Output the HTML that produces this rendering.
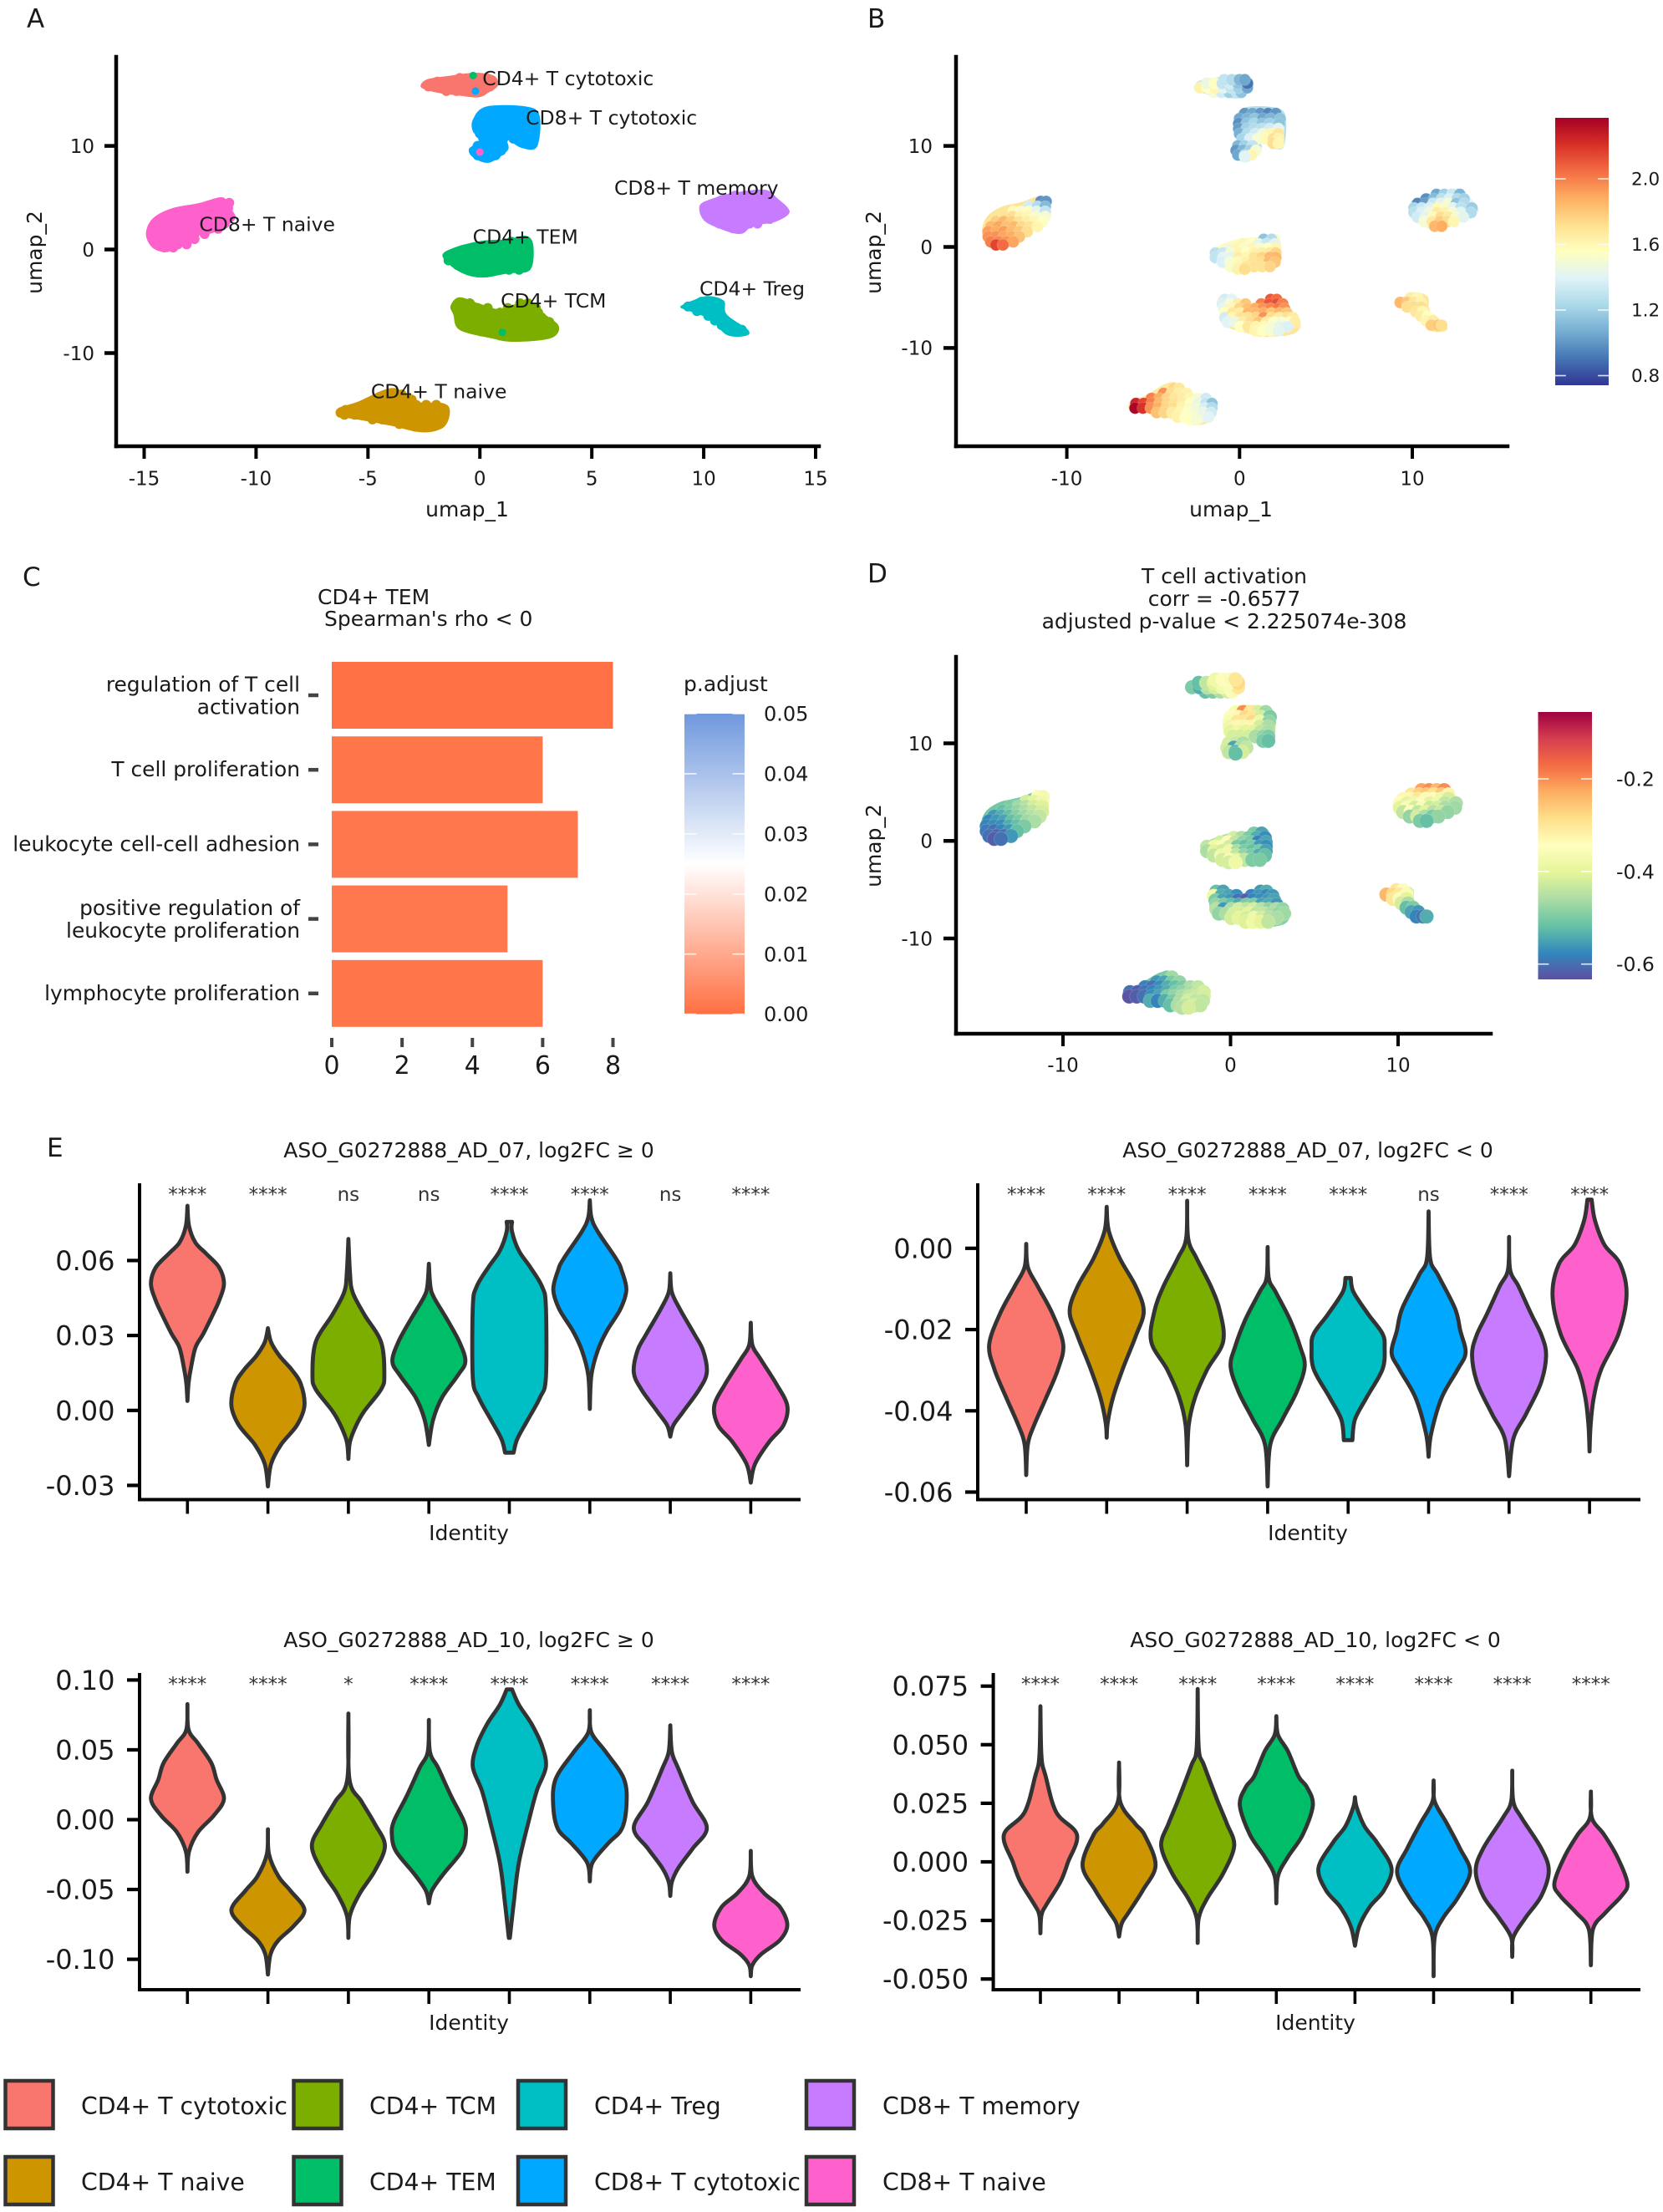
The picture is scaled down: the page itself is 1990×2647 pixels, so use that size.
<!DOCTYPE html>
<html lang="en">
<head>
<meta charset="utf-8">
<title>T cell UMAP, enrichment and violin figure</title>
<style>
html,body{margin:0;padding:0;background:#fff;}
svg{display:block;font-family:"DejaVu Sans","Liberation Sans",sans-serif;fill:#1a1a1a;}
</style>
</head>
<body>
<svg id="fig" xmlns="http://www.w3.org/2000/svg" width="1990" height="2647" viewBox="0 0 1990 2647">
  <defs>
    <linearGradient id="gradB" x1="0" y1="1" x2="0" y2="0"></linearGradient>
    <linearGradient id="gradD" x1="0" y1="1" x2="0" y2="0"></linearGradient>
    <linearGradient id="gradC" x1="0" y1="1" x2="0" y2="0"></linearGradient>
  </defs>
  <rect width="1990" height="2647" fill="#fff"></rect>

  <g font-size="31">
    <text x="32" y="33">A</text>
    <text x="1038" y="33">B</text>
    <text x="27" y="701">C</text>
    <text x="1038" y="697">D</text>
    <text x="56" y="1384">E</text>
  </g>

  <g id="panelA"></g>
  <g id="panelB"></g>
  <g id="panelC"></g>
  <g id="panelD"></g>
  <g id="panelE1"></g>
  <g id="panelE2"></g>
  <g id="panelE3"></g>
  <g id="panelE4"></g>

  <g font-size="25">
    <text x="380" y="723">CD4+ TEM</text>
    <text x="388" y="749">Spearman's rho &lt; 0</text>
    <text x="1465" y="698" text-anchor="middle">T cell activation</text>
    <text x="1465" y="725" text-anchor="middle">corr = -0.6577</text>
    <text x="1465" y="752" text-anchor="middle">adjusted p-value &lt; 2.225074e-308</text>
    <text x="561" y="1385" text-anchor="middle">ASO_G0272888_AD_07, log2FC ≥ 0</text>
    <text x="1565" y="1385" text-anchor="middle">ASO_G0272888_AD_07, log2FC &lt; 0</text>
    <text x="561" y="1971" text-anchor="middle">ASO_G0272888_AD_10, log2FC ≥ 0</text>
    <text x="1574" y="1971" text-anchor="middle">ASO_G0272888_AD_10, log2FC &lt; 0</text>
  </g>

  <g font-size="25">
    <text x="559" y="618" text-anchor="middle">umap_1</text>
    <text transform="translate(50,302) rotate(-90)" text-anchor="middle">umap_2</text>
    <text x="1473" y="618" text-anchor="middle">umap_1</text>
    <text transform="translate(1054,302) rotate(-90)" text-anchor="middle">umap_2</text>
    <text transform="translate(1054,1012) rotate(-90)" text-anchor="middle">umap_2</text>
    <text x="818" y="827">p.adjust</text>
    <text x="561" y="1843" text-anchor="middle">Identity</text>
    <text x="1565" y="1843" text-anchor="middle">Identity</text>
    <text x="561" y="2429" text-anchor="middle">Identity</text>
    <text x="1574" y="2429" text-anchor="middle">Identity</text>
  </g>

  <g font-size="28.3" stroke-linejoin="miter">
    <g><rect x="6.5" y="2490" width="57" height="57" fill="#F8766D" stroke="#333" stroke-width="4.5"></rect><text x="97" y="2530">CD4+ T cytotoxic</text></g>
    <g><rect x="6.5" y="2581" width="57" height="57" fill="#CD9600" stroke="#333" stroke-width="4.5"></rect><text x="97" y="2621">CD4+ T naive</text></g>
    <g><rect x="351.5" y="2490" width="57" height="57" fill="#7CAE00" stroke="#333" stroke-width="4.5"></rect><text x="442" y="2530">CD4+ TCM</text></g>
    <g><rect x="351.5" y="2581" width="57" height="57" fill="#00BE67" stroke="#333" stroke-width="4.5"></rect><text x="442" y="2621">CD4+ TEM</text></g>
    <g><rect x="620" y="2490" width="57" height="57" fill="#00BFC4" stroke="#333" stroke-width="4.5"></rect><text x="711" y="2530">CD4+ Treg</text></g>
    <g><rect x="620" y="2581" width="57" height="57" fill="#00A9FF" stroke="#333" stroke-width="4.5"></rect><text x="711" y="2621">CD8+ T cytotoxic</text></g>
    <g><rect x="965" y="2490" width="57" height="57" fill="#C77CFF" stroke="#333" stroke-width="4.5"></rect><text x="1056" y="2530">CD8+ T memory</text></g>
    <g><rect x="965" y="2581" width="57" height="57" fill="#FF61CC" stroke="#333" stroke-width="4.5"></rect><text x="1056" y="2621">CD8+ T naive</text></g>
  </g>
</svg>

<script>
/* ---------- UMAP cells: [umap_1, umap_2, panel B value, panel D score] ---------- */
const cellsCd4Cytotoxic = [
[-1.5,15.3,1.5,-.52],[-1.05,15.3,1.35,-.5],[-.6,15.3,1.2,-.46],[-.15,15.3,1.3,-.42],[.1,15.3,1.15,-.36],
[-2.3,15.75,1.62,-.5],[-1.85,15.75,1.55,-.54],[-1.4,15.75,1.6,-.45],[-.95,15.75,1.4,-.42],[-.5,15.75,1.3,-.38],[-.05,15.75,1.2,-.36],[.45,15.75,1.05,-.3],
[-1.9,16.2,1.45,-.52],[-1.45,16.2,1.55,-.44],[-1,16.2,1.3,-.4],[-.55,16.2,1.35,-.37],[-.1,16.2,1.15,-.36],[.45,16.2,.9,-.28],
[-.9,16.55,1.3,-.38],[-.45,16.55,1.25,-.34],[0,16.55,1.1,-.36],[.3,16.55,1.05,-.3]];
const cellsCd8Cytotoxic = [
[.3,13.2,1.0,-.36],[.75,13.2,1.05,-.2],[1.2,13.2,1.0,-.3],[1.65,13.2,.95,-.42],[2.1,13.2,1.0,-.47],
[0,12.7,1.05,-.34],[.45,12.7,1.1,-.33],[.9,12.7,1.15,-.28],[1.35,12.7,1.05,-.3],[1.8,12.7,1.1,-.42],[2.35,12.7,1.15,-.5],
[-.05,12.2,.98,-.36],[.4,12.2,1.15,-.3],[.85,12.2,1.22,-.3],[1.3,12.2,1.15,-.28],[1.75,12.2,1.2,-.38],[2.3,12.2,1.15,-.48],
[-.05,11.7,1.02,-.38],[.4,11.7,1.2,-.33],[.85,11.7,1.25,-.37],[1.3,11.7,1.28,-.33],[1.75,11.7,1.35,-.42],[2.25,11.7,1.42,-.46],
[0,11.2,1.08,-.4],[.45,11.2,1.25,-.38],[.9,11.2,1.35,-.4],[1.35,11.2,1.48,-.4],[1.8,11.2,1.6,-.44],[2.25,11.2,1.68,-.46],
[.15,10.7,1.22,-.42],[.6,10.7,1.38,-.42],[1.05,10.7,1.5,-.42],[1.5,10.7,1.58,-.46],[1.95,10.7,1.7,-.48],[2.25,10.7,1.62,-.5],
[1.95,10.25,1.72,-.5],[2.25,10.25,1.6,-.52],
[-.1,10,1.1,-.42],[.3,10,1.2,-.43],[.75,10,1.3,-.46],
[-.2,9.55,1.0,-.42],[.2,9.55,1.1,-.55],[.6,9.55,1.2,-.46],[.95,9.55,1.5,-.44],
[-.1,9.1,1.05,-.44],[.3,9.1,1.25,-.54],[.7,9.1,1.6,-.42],
[.3,8.95,1.4,-.52]];
const cellsCd8Naive = [
[-11.5,4.5,.98,-.36],[-11.2,4.5,1.0,-.37],
[-12.2,4,1.35,-.42],[-11.7,4,1.25,-.4],[-11.25,4,1.12,-.38],
[-13.1,3.5,1.58,-.5],[-12.65,3.5,1.52,-.47],[-12.2,3.5,1.55,-.45],[-11.75,3.5,1.42,-.42],[-11.25,3.5,1.3,-.41],
[-13.6,3,1.7,-.52],[-13.15,3,1.72,-.5],[-12.7,3,1.62,-.48],[-12.25,3,1.6,-.46],[-11.8,3,1.52,-.44],[-11.25,3,1.5,-.42],
[-14.1,2.5,1.78,-.56],[-13.65,2.5,1.85,-.54],[-13.2,2.5,1.78,-.52],[-12.75,2.5,1.7,-.49],[-12.3,2.5,1.64,-.47],[-11.85,2.5,1.6,-.45],[-11.4,2.5,1.55,-.44],
[-14.4,2,1.85,-.58],[-13.95,2,1.9,-.56],[-13.5,2,1.82,-.55],[-13.05,2,1.85,-.52],[-12.6,2,1.74,-.5],[-12.15,2,1.7,-.47],[-11.7,2,1.6,-.46],
[-14.55,1.5,1.92,-.58],[-14.1,1.5,1.88,-.57],[-13.65,1.5,1.92,-.57],[-13.2,1.5,1.84,-.54],[-12.75,1.5,1.8,-.52],[-12.3,1.5,1.72,-.5],
[-14.55,1,1.95,-.59],[-14.1,1,1.95,-.6],[-13.65,1,1.9,-.58],[-13.2,1,1.88,-.56],[-12.75,1,1.82,-.52],
[-14.4,.5,2.0,-.6],[-13.95,.5,1.98,-.61],[-13.5,.5,1.95,-.6],[-13.1,.5,1.9,-.56],
[-14.1,.2,2.15,-.62],[-13.7,.2,2.05,-.6]];
const cellsCd8Memory = [
[11.4,5.2,1.05,-.22],[11.85,5.2,1.2,-.2],[12.3,5.2,1.32,-.24],[12.75,5.2,1.1,-.2],
[10.8,4.75,.98,-.3],[11.25,4.75,1.12,-.27],[11.7,4.75,1.28,-.26],[12.15,4.75,1.38,-.29],[12.6,4.75,1.25,-.26],[13,4.75,1.2,-.32],
[10.3,4.3,.95,-.33],[10.75,4.3,1.02,-.33],[11.2,4.3,1.32,-.3],[11.65,4.3,1.42,-.36],[12.1,4.3,1.5,-.34],[12.55,4.3,1.15,-.38],[13,4.3,1.25,-.42],
[10.1,3.85,1.22,-.34],[10.55,3.85,1.32,-.4],[11,3.85,1.38,-.38],[11.45,3.85,1.58,-.34],[11.9,3.85,1.52,-.4],[12.35,3.85,1.42,-.38],[12.8,3.85,1.28,-.44],[13.45,3.85,1.18,-.46],
[10.1,3.4,1.28,-.4],[10.55,3.4,1.38,-.36],[11,3.4,1.48,-.42],[11.45,3.4,1.66,-.36],[11.9,3.4,1.62,-.43],[12.35,3.4,1.5,-.42],[12.8,3.4,1.4,-.46],[13.4,3.4,1.25,-.47],
[10.3,2.95,1.35,-.44],[10.75,2.95,1.42,-.34],[11.2,2.95,1.58,-.44],[11.65,2.95,1.72,-.4],[12.1,2.95,1.66,-.45],[12.55,2.95,1.52,-.43],[12.95,2.95,1.42,-.48],
[10.7,2.5,1.5,-.48],[11.15,2.5,1.66,-.42],[11.6,2.5,1.78,-.46],[12.05,2.5,1.72,-.5],[12.4,2.5,1.6,-.48],
[11.3,2.05,1.85,-.5],[11.7,2.05,1.88,-.52]];
const cellsCd4Tem = [
[1.4,.75,1.15,-.5],[1.85,.75,1.25,-.55],
[.2,.3,1.6,-.42],[.65,.3,1.55,-.46],[1.1,.3,1.42,-.5],[1.55,.3,1.32,-.54],[2.05,.3,1.42,-.57],
[-.6,-.15,1.48,-.42],[-.15,-.15,1.6,-.34],[.3,-.15,1.52,-.44],[.75,-.15,1.6,-.48],[1.2,-.15,1.5,-.5],[1.65,-.15,1.55,-.58],[2.1,-.15,1.6,-.55],
[-1.4,-.6,1.28,-.44],[-.95,-.6,1.32,-.38],[-.5,-.6,1.5,-.36],[-.05,-.6,1.6,-.42],[.4,-.6,1.55,-.5],[.85,-.6,1.62,-.52],[1.3,-.6,1.64,-.5],[1.75,-.6,1.66,-.56],[2.1,-.6,1.75,-.57],
[-1.4,-1.05,1.3,-.46],[-.95,-1.05,1.4,-.4],[-.5,-1.05,1.42,-.42],[-.05,-1.05,1.65,-.38],[.4,-1.05,1.6,-.46],[.85,-1.05,1.7,-.5],[1.3,-1.05,1.75,-.52],[1.75,-1.05,1.85,-.5],[2.1,-1.05,1.85,-.55],
[-1,-1.5,1.38,-.44],[-.55,-1.5,1.5,-.38],[-.1,-1.5,1.58,-.38],[.35,-1.5,1.62,-.44],[.8,-1.5,1.7,-.48],[1.25,-1.5,1.72,-.5],[1.7,-1.5,1.84,-.54],[2.05,-1.5,1.8,-.52],
[-.5,-1.95,1.52,-.42],[-.05,-1.95,1.6,-.36],[.4,-1.95,1.68,-.4],[.85,-1.95,1.7,-.44],[1.3,-1.95,1.7,-.5],[1.75,-1.95,1.75,-.5],
[-.1,-2.2,1.62,-.42],[.3,-2.2,1.72,-.38]];
const cellsCd4Tcm = [
[-.85,-5.2,1.35,-.52],[-.45,-5.2,1.4,-.55],[1.8,-5.2,2.1,-.56],[2.15,-5.2,2.05,-.54],
[-1,-5.65,1.38,-.38],[-.55,-5.65,1.5,-.54],[-.1,-5.65,1.65,-.55],[.35,-5.65,1.8,-.57],[1.25,-5.65,2.0,-.58],[1.7,-5.65,2.1,-.56],[2.15,-5.65,2.12,-.58],[2.5,-5.65,2.0,-.56],
[-.9,-6.1,1.45,-.5],[-.45,-6.1,1.6,-.55],[0,-6.1,1.75,-.56],[.45,-6.1,1.82,-.6],[.9,-6.1,1.88,-.62],[1.35,-6.1,1.95,-.58],[1.8,-6.1,1.98,-.57],[2.25,-6.1,2.02,-.56],[2.6,-6.1,1.95,-.55],
[-.85,-6.55,1.55,-.48],[-.4,-6.55,1.68,-.5],[.05,-6.55,1.65,-.52],[.5,-6.55,1.85,-.54],[.95,-6.55,1.85,-.5],[1.4,-6.55,1.88,-.5],[1.85,-6.55,1.8,-.55],[2.3,-6.55,1.85,-.54],[2.75,-6.55,1.8,-.56],
[-.85,-7,1.35,-.45],[-.4,-7,1.6,-.56],[.05,-7,1.7,-.46],[.5,-7,1.7,-.42],[.95,-7,1.75,-.44],[1.4,-7,1.95,-.42],[1.85,-7,1.72,-.45],[2.3,-7,1.65,-.48],[2.75,-7,1.7,-.46],[3.1,-7,1.65,-.48],
[-.7,-7.45,1.4,-.48],[-.25,-7.45,1.45,-.46],[.2,-7.45,1.65,-.42],[.65,-7.45,1.72,-.42],[1.1,-7.45,1.8,-.4],[1.55,-7.45,1.65,-.44],[2,-7.45,1.55,-.44],[2.45,-7.45,1.5,-.46],[2.9,-7.45,1.55,-.48],[3.2,-7.45,1.65,-.47],
[.05,-7.9,1.55,-.42],[.5,-7.9,1.68,-.4],[.95,-7.9,1.62,-.42],[1.4,-7.9,1.58,-.38],[1.85,-7.9,1.5,-.42],[2.3,-7.9,1.42,-.45],[2.75,-7.9,1.38,-.46],
[.9,-8.3,1.6,-.41],[1.35,-8.3,1.55,-.38],[1.8,-8.3,1.5,-.4],[2.25,-8.3,1.42,-.44]];
const cellsCd4Treg = [
[9.9,-5.05,1.65,-.3],[10.3,-5.05,1.6,-.34],
[9.3,-5.5,1.85,-.24],[9.7,-5.5,1.8,-.28],[10.1,-5.5,1.68,-.3],[10.5,-5.5,1.62,-.36],
[9.7,-5.95,1.72,-.3],[10.1,-5.95,1.72,-.36],[10.5,-5.95,1.72,-.4],
[10.2,-6.4,1.68,-.42],[10.6,-6.4,1.6,-.46],
[10.5,-6.85,1.65,-.52],[10.9,-6.85,1.55,-.5],
[10.8,-7.3,1.6,-.55],[11.2,-7.3,1.65,-.56],
[11.1,-7.75,1.78,-.58],[11.5,-7.75,1.8,-.6],[11.7,-7.75,1.72,-.54]];
const cellsCd4Naive = [
[-3.8,-14,1.75,-.5],[-3.5,-14,1.68,-.47],
[-4.4,-14.5,1.95,-.56],[-3.95,-14.5,1.72,-.55],[-3.5,-14.5,1.65,-.5],[-3.05,-14.5,1.62,-.48],
[-5.1,-15,2.0,-.58],[-4.65,-15,1.88,-.6],[-4.2,-15,1.75,-.57],[-3.75,-15,1.68,-.54],[-3.3,-15,1.65,-.52],[-2.85,-15,1.6,-.5],[-2.4,-15,1.5,-.46],[-1.95,-15,1.35,-.44],
[-6,-15.5,2.25,-.6],[-5.55,-15.5,2.15,-.62],[-5.1,-15.5,2.0,-.6],[-4.65,-15.5,1.85,-.58],[-4.2,-15.5,1.75,-.56],[-3.75,-15.5,1.7,-.54],[-3.3,-15.5,1.65,-.5],[-2.85,-15.5,1.55,-.48],[-2.4,-15.5,1.45,-.46],[-1.95,-15.5,1.3,-.44],[-1.6,-15.5,1.15,-.42],
[-6.05,-15.95,2.35,-.63],[-5.6,-15.95,2.2,-.62],[-5.15,-15.95,1.95,-.6],[-4.7,-15.95,1.88,-.57],[-4.25,-15.95,1.75,-.55],[-3.8,-15.95,1.72,-.5],[-3.35,-15.95,1.62,-.48],[-2.9,-15.95,1.52,-.46],[-2.45,-15.95,1.48,-.44],[-2,-15.95,1.36,-.43],[-1.6,-15.95,1.25,-.42],
[-4.8,-16.4,1.82,-.54],[-4.35,-16.4,1.75,-.58],[-3.9,-16.4,1.65,-.54],[-3.45,-16.4,1.6,-.5],[-3,-16.4,1.55,-.46],[-2.55,-16.4,1.48,-.42],[-2.1,-16.4,1.45,-.44],[-1.65,-16.4,1.35,-.44],
[-3.6,-16.85,1.62,-.52],[-3.15,-16.85,1.55,-.46],[-2.7,-16.85,1.52,-.44],[-2.25,-16.85,1.45,-.42],[-1.8,-16.85,1.4,-.44],
[-2.9,-17.1,1.55,-.45],[-2.5,-17.1,1.5,-.42]];

/* cluster outlines in UMAP coordinates: [umap_1, umap_2] */
const outlineCd4Cytotoxic = [[-2.65,15.84],[-2.34,16.44],[-1.38,16.77],[-.19,17.06],[.64,16.77],[.81,15.84],[.41,15.18],[-.07,14.69],[-.91,14.85],[-1.86,15.12],[-2.46,15.45]];
const outlineCd8Cytotoxic = [[.29,13.8],[2.08,13.8],[2.67,12.87],[2.55,9.9],[1.84,9.83],[1.24,10.56],[1.24,9.57],[.41,8.38],[-.31,8.91],[-.48,9.74],[.05,10.56],[-.31,11.39],[-.31,12.54]];
const outlineCd8Naive = [[-11.53,5.05],[-11.29,4.29],[-10.93,2.97],[-11.89,1.65],[-12.6,1.32],[-13.56,.17],[-14.03,-.26],[-14.63,.17],[-14.92,1.49],[-14.63,2.97],[-13.79,3.96],[-12.6,4.46]];
const outlineCd8Memory = [[11.26,5.45],[12.7,5.78],[13.29,4.95],[13.84,3.63],[13.17,2.64],[12.22,2.31],[11.62,1.49],[10.55,2.15],[9.95,2.97],[9.83,4.29],[10.43,4.95]];
const outlineCd4Tem = [[2.08,1.32],[2.39,.33],[2.24,-1.98],[1.24,-2.31],[.05,-2.71],[-.91,-2.15],[-1.67,-.66],[-1.15,.17],[.05,.83],[1.24,.99]];
const outlineCd4Tcm = [[-.91,-4.62],[.05,-5.28],[1,-5.78],[2.08,-4.95],[2.91,-6.27],[3.53,-7.43],[3.15,-8.58],[1.48,-8.91],[.53,-8.58],[-.91,-7.76],[-1.19,-6.27],[-1.31,-5.45]];
const outlineCd4Treg = [[10.19,-4.49],[10.9,-4.95],[11.03,-6.27],[11.98,-7.76],[11.86,-8.35],[11.03,-8.25],[10.31,-6.77],[9.36,-5.94],[8.95,-5.54],[9.47,-4.95]];
const outlineCd4Naive = [[-3.89,-13.37],[-2.82,-14.69],[-1.62,-14.85],[-1.34,-15.68],[-1.62,-17.16],[-2.58,-17.66],[-4.01,-17],[-5.68,-16.34],[-6.35,-16.17],[-6.35,-15.35],[-5.44,-14.69]];

/* stray cells of other identities seen inside clusters in panel A: [umap_1, umap_2] */
const strayTem = [[-.3,16.8],[1,-8]];
const strayCytotoxic8 = [[-.2,15.3]];
const strayNaive8 = [[0,9.4]];

/* cluster labels in panel A */
const clusterLabels = ["CD4+ T cytotoxic","CD8+ T cytotoxic","CD8+ T memory","CD8+ T naive","CD4+ TEM","CD4+ TCM","CD4+ Treg","CD4+ T naive"];
const clusterLabelX = [.11,2.05,6.0,-12.54,-.32,.93,9.81,-4.87];
const clusterLabelY = [16.54,12.74,5.98,2.47,1.26,-4.92,-3.75,-13.67];

/* tick labels */
const ticksAX = [-15,-10,-5,0,5,10,15];
const ticksUmapY = [10,0,-10];
const ticksBDX = [-10,0,10];
const ticksBarB = [0.8,1.2,1.6,2.0];
const ticksBarD = [-0.6,-0.4,-0.2];
const ticksBarC = [0,0.01,0.02,0.03,0.04,0.05];

/* panel C bars */
const goTerms = [["regulation of T cell","activation"],["T cell proliferation"],["leukocyte cell-cell adhesion"],["positive regulation of","leukocyte proliferation"],["lymphocyte proliferation"]];
const goCounts = [8,6,7,5,6];
const goPadjust = [0.0004,0.0012,0.0014,0.0016,0.0012];
const ticksCX = [0,2,4,6,8];

/* colour ramps */
const rdYlBuStops = ["#313695","#4575b4","#74add1","#abd9e9","#e0f3f8","#ffffbf","#fee090","#fdae61","#f46d43","#d73027","#a50026"];
const spectralStops = ["#5e4fa2","#3288bd","#66c2a5","#abdda4","#e6f598","#ffffbf","#fee08b","#fdae61","#f46d43","#d53e4f","#9e0142"];
const padjustStops = ["#ff6f42","#ffffff","#7098dd"];

/* violins */
const identityColors = ["#F8766D","#CD9600","#7CAE00","#00BE67","#00BFC4","#00A9FF","#C77CFF","#FF61CC"];
const identityNames = ["cd4-t-cytotoxic","cd4-t-naive","cd4-tcm","cd4-tem","cd4-treg","cd8-t-cytotoxic","cd8-t-memory","cd8-t-naive"];

const sigAd07Pos = ["****","****","ns","ns","****","****","ns","****"];
const sigAd07Neg = ["****","****","****","****","****","ns","****","****"];
const sigAd10Pos = ["****","****","*","****","****","****","****","****"];
const sigAd10Neg = ["****","****","****","****","****","****","****","****"];

const ticksAd07Pos = [-0.03,0,0.03,0.06];
const ticksAd07Neg = [-0.06,-0.04,-0.02,0];
const ticksAd10Pos = [-0.10,-0.05,0,0.05,0.10];
const ticksAd10Neg = [-0.05,-0.025,0,0.025,0.05,0.075];

/* value along the violin, then relative density (70 = widest) */
const ad07PosValues = [
[.0819,.0738,.0672,.0628,.0572,.0506,.044,.0384,.0307,.0251,.0163,.0107,.0038],
[.0329,.0273,.0218,.0163,.0107,.0019,-.0059,-.0136,-.0214,-.0304],
[.0686,.055,.0473,.0384,.0273,.0141,.0085,-.0003,-.0059,-.0125,-.0194],
[.0587,.0495,.0451,.0362,.0273,.0196,.0141,.0052,-.0037,-.0138],
[.0755,.0716,.0639,.0572,.0495,.0417,.013,.0052,-.0037,-.0114,-.0169],
[.0841,.0772,.0716,.0606,.0561,.0484,.0406,.0318,.024,.0141,.0006],
[.0549,.0473,.0406,.0307,.024,.0152,.0085,-.0003,-.0059,-.0105],
[.0351,.0262,.0207,.0107,.0019,-.0059,-.0125,-.0214,-.0289]];
const ad07PosDensity = [
[0,3,15,35,60,69,60,48,30,15,6,2,0],
[0,6,22,45,62,69,55,25,6,0],
[0,3,8,30,62,68,62,30,15,3,0],
[0,3,10,35,58,69,55,25,8,0],
[5,5,18,40,62,69,69,58,35,15,8],
[0,3,15,50,60,69,58,32,15,3,0],
[0,3,18,45,62,69,55,25,6,0],
[0,3,18,48,69,62,35,8,0]];

const ad07NegValues = [
[.0011,-.0046,-.0094,-.0162,-.0237,-.0298,-.0367,-.0435,-.0483,-.0558],
[.0102,.0043,-.0025,-.0094,-.0155,-.0216,-.0298,-.0367,-.0428,-.0466],
[.0117,.0023,-.0025,-.0094,-.0155,-.023,-.0298,-.0367,-.0435,-.0534],
[.0003,-.0073,-.0107,-.0175,-.0244,-.0291,-.0353,-.0421,-.0483,-.0586],
[-.0073,-.0107,-.0162,-.021,-.0244,-.0298,-.0367,-.0421,-.0472],
[.0091,-.0025,-.0066,-.0148,-.0203,-.0257,-.0298,-.0367,-.0455,-.0513],
[.0028,-.0053,-.0094,-.0162,-.0216,-.0264,-.0332,-.0408,-.0469,-.0561],
[.012,.007,.0009,-.0039,-.0114,-.021,-.0298,-.0367,-.0435,-.05]];
const ad07NegDensity = [
[0,3,22,50,70,60,38,15,3,0],
[0,4,25,55,70,55,30,12,2,0],
[0,2,18,45,62,68,38,15,3,0],
[0,2,15,42,62,70,55,28,5,0],
[5,10,38,65,69,65,35,13,8],
[0,3,18,50,60,70,55,25,5,0],
[0,2,18,42,62,70,60,32,8,0],
[4,10,28,58,70,55,22,8,2,0]];

const ad10PosValues = [
[.0827,.0645,.0546,.0407,.0288,.0149,.003,-.0089,-.0228,-.0373],
[-.0069,-.0248,-.0407,-.0506,-.0645,-.0764,-.0863,-.0962,-.1109],
[.076,.0288,.0129,-.003,-.0188,-.0367,-.0526,-.0685,-.0847],
[.0714,.0486,.0367,.0169,-.001,-.0109,-.0228,-.0387,-.0506,-.0599],
[.0933,.0823,.0685,.0526,.0377,.0208,.001,-.0308,-.0605,-.0847],
[.0784,.0625,.0486,.0288,.0089,-.0069,-.0169,-.0308,-.0442],
[.0675,.0486,.0367,.0129,-.006,-.0208,-.0347,-.0446,-.0546],
[-.0224,-.0407,-.0526,-.0625,-.0754,-.0863,-.0962,-.1042,-.1121]];
const ad10PosDensity = [
[0,2,20,45,55,69,50,20,3,0],
[0,2,20,42,69,48,20,5,0],
[0,2,25,50,69,50,22,3,0],
[0,2,18,42,66,70,62,28,6,0],
[5,18,42,62,69,52,38,18,8,1],
[0,3,30,65,69,60,35,5,0],
[0,3,15,42,69,42,15,3,0],
[0,3,25,55,69,55,20,3,0]];

const ad10NegValues = [
[.0664,.0448,.0365,.0211,.0116,-.0002,-.0085,-.018,-.0227,-.0305],
[.0424,.0258,.0164,.0116,-.0014,-.0121,-.0216,-.0263,-.0319],
[.0738,.0483,.0412,.0258,.0164,.0069,-.005,-.0156,-.0239,-.0346],
[.0622,.0543,.0472,.0365,.0318,.0241,.0116,.0021,-.0062,-.0177],
[.0276,.0235,.0152,.0081,-.0026,-.0121,-.0192,-.0275,-.0358],
[.0347,.0258,.0164,.0057,-.0044,-.0156,-.0239,-.0322,-.0488],
[.0389,.0258,.0187,.0057,-.0038,-.0145,-.0239,-.0322,-.0405],
[.03,.0187,.0116,.0021,-.0091,-.0145,-.0216,-.0287,-.0441]];
const ad10NegDensity = [
[0,2,10,30,69,52,38,12,2,0],
[0,2,30,48,69,45,18,5,0],
[0,2,12,38,55,69,48,18,2,0],
[0,3,22,42,58,69,50,22,3,0],
[0,3,18,42,69,55,28,8,0],
[0,2,25,50,69,45,18,2,0],
[0,2,18,55,69,55,25,2,0],
[0,2,25,50,69,58,28,4,0]];

/* ---------- helpers ---------- */
const NS = "http://www.w3.org/2000/svg";
function linear(d0, d1, r0, r1) { return v => r0 + (v - d0) * (r1 - r0) / (d1 - d0); }
function shape(parent, tag, attrs, name) {
  const el = document.createElementNS(NS, tag);
  for (const k in attrs) el.setAttribute(k, attrs[k]);
  
  
  parent.appendChild(el);
  return el;
}
function label(parent, x, yMid, str, size, anchor, name) {
  const el = shape(parent, 'text', {x: x, y: yMid + size * 0.36, 'font-size': size, 'text-anchor': anchor}, name);
  el.textContent = str;
  return el;
}
function axisLine(parent, x1, y1, x2, y2, w, name) {
  shape(parent, 'line', {x1, y1, x2, y2, stroke: '#000', 'stroke-width': w, 'stroke-linecap': 'square'}, name);
}
function hexRgb(h) { return [1, 3, 5].map(i => parseInt(h.substr(i, 2), 16)); }
function ramp(stops, t) {
  t = Math.max(0, Math.min(1, t));
  const p = t * (stops.length - 1), i = Math.min(stops.length - 2, Math.floor(p)), f = p - i;
  const a = hexRgb(stops[i]), b = hexRgb(stops[i + 1]);
  return 'rgb(' + a.map((c, j) => Math.round(c + (b[j] - c) * f)).join(',') + ')';
}
function fillGradient(id, stops) {
  const g = document.getElementById(id);
  stops.forEach((c, i) => {
    const s = document.createElementNS(NS, 'stop');
    s.setAttribute('offset', (i / (stops.length - 1) * 100) + '%');
    s.setAttribute('stop-color', c);
    g.appendChild(s);
  });
}
function fmt(v, digits) { return v.toFixed(digits); }
function closedCurve(pts) {
  const n = pts.length;
  let d = 'M' + pts[0][0].toFixed(1) + ' ' + pts[0][1].toFixed(1);
  for (let i = 0; i < n; i++) {
    const p0 = pts[(i - 1 + n) % n], p1 = pts[i], p2 = pts[(i + 1) % n], p3 = pts[(i + 2) % n];
    d += 'C' + (p1[0] + (p2[0] - p0[0]) / 6).toFixed(1) + ' ' + (p1[1] + (p2[1] - p0[1]) / 6).toFixed(1) + ' ' +
      (p2[0] - (p3[0] - p1[0]) / 6).toFixed(1) + ' ' + (p2[1] - (p3[1] - p1[1]) / 6).toFixed(1) + ' ' +
      p2[0].toFixed(1) + ' ' + p2[1].toFixed(1);
  }
  return d + 'Z';
}

const clusters = [
  {cells: cellsCd4Cytotoxic, outline: outlineCd4Cytotoxic, color: identityColors[0], name: identityNames[0]},
  {cells: cellsCd8Cytotoxic, outline: outlineCd8Cytotoxic, color: identityColors[5], name: identityNames[5]},
  {cells: cellsCd8Naive, outline: outlineCd8Naive, color: identityColors[7], name: identityNames[7]},
  {cells: cellsCd8Memory, outline: outlineCd8Memory, color: identityColors[6], name: identityNames[6]},
  {cells: cellsCd4Tem, outline: outlineCd4Tem, color: identityColors[3], name: identityNames[3]},
  {cells: cellsCd4Tcm, outline: outlineCd4Tcm, color: identityColors[2], name: identityNames[2]},
  {cells: cellsCd4Treg, outline: outlineCd4Treg, color: identityColors[4], name: identityNames[4]},
  {cells: cellsCd4Naive, outline: outlineCd4Naive, color: identityColors[1], name: identityNames[1]}
];

/* ---------- panel A ---------- */
(function () {
  const g = document.getElementById('panelA');
  const x = linear(-15, 15, 172.5, 976), y = linear(-10, 10, 422.5, 174.6);
  clusters.forEach(c => {
    const cg = shape(g, 'g', {fill: c.color}, 'cluster-' + c.name);
    shape(cg, 'path', {d: closedCurve(c.outline.map(p => [x(p[0]), y(p[1])]))}, 'cluster-body');
    c.cells.forEach(p => shape(cg, 'circle', {cx: x(p[0]), cy: y(p[1]), r: 6}, 'cell-point'));
  });
  strayTem.forEach(p => shape(g, 'circle', {cx: x(p[0]), cy: y(p[1]), r: 4.5, fill: identityColors[3]}, 'stray-cell-tem'));
  strayCytotoxic8.forEach(p => shape(g, 'circle', {cx: x(p[0]), cy: y(p[1]), r: 4.5, fill: identityColors[5]}, 'stray-cell-cd8-cytotoxic'));
  strayNaive8.forEach(p => shape(g, 'circle', {cx: x(p[0]), cy: y(p[1]), r: 4.5, fill: identityColors[7]}, 'stray-cell-cd8-naive'));
  clusterLabels.forEach((t, i) => label(g, x(clusterLabelX[i]), y(clusterLabelY[i]), t, 23.5, 'start', 'cluster-label'));
  axisLine(g, 139, 68, 139, 534, 4.5, 'y-axis-line');
  axisLine(g, 139, 534, 980, 534, 4.5, 'x-axis-line');
  ticksAX.forEach(v => {
    shape(g, 'line', {x1: x(v), x2: x(v), y1: 534, y2: 549, stroke: '#000', 'stroke-width': 4}, 'x-tick');
    label(g, x(v), 572, String(v), 23, 'middle', 'x-tick-label');
  });
  ticksUmapY.forEach(v => {
    shape(g, 'line', {x1: 125, x2: 139, y1: y(v), y2: y(v), stroke: '#000', 'stroke-width': 4.5}, 'y-tick');
    label(g, 113, y(v), String(v), 23, 'end', 'y-tick-label');
  });
})();

/* ---------- scatter with value colour (panels B and D) ---------- */
function valueScatter(g, x, y, valueIndex, stops, vMin, vMax, r) {
  clusters.forEach(c => {
    const cg = shape(g, 'g', {}, 'cluster-' + c.name);
    const mean = c.cells.reduce((s, p) => s + p[valueIndex], 0) / c.cells.length;
    shape(cg, 'path', {d: closedCurve(c.outline.map(p => [x(p[0]), y(p[1])])), fill: ramp(stops, (mean - vMin) / (vMax - vMin))}, 'cluster-body');
    c.cells.forEach(p => {
      shape(cg, 'circle', {cx: x(p[0]), cy: y(p[1]), r: r, fill: ramp(stops, (p[valueIndex] - vMin) / (vMax - vMin)), stroke: '#fff', 'stroke-opacity': .18, 'stroke-width': .8}, 'cell-point');
    });
  });
}
function colorbar(g, x0, x1, yScale, top, bottom, gradId, ticks, digits, labelX, size) {
  shape(g, 'rect', {x: x0, y: top, width: x1 - x0, height: bottom - top, fill: 'url(#' + gradId + ')'}, 'colorbar');
  const w = (x1 - x0) / 5;
  ticks.forEach(v => {
    shape(g, 'line', {x1: x0, x2: x0 + w, y1: yScale(v), y2: yScale(v), stroke: '#fff', 'stroke-width': 1.6, opacity: .85}, 'colorbar-tick');
    shape(g, 'line', {x1: x1 - w, x2: x1, y1: yScale(v), y2: yScale(v), stroke: '#fff', 'stroke-width': 1.6, opacity: .85}, 'colorbar-tick');
    label(g, labelX, yScale(v), fmt(v, digits), size, 'start', 'colorbar-label');
  });
}

/* ---------- panel B ---------- */
fillGradient('gradB', rdYlBuStops);
(function () {
  const g = document.getElementById('panelB');
  const x = linear(-10, 10, 1276.6, 1690), y = linear(-10, 10, 416.4, 174.6);
  const cb = linear(0.8, 2.0, 449.5, 214);
  valueScatter(g, x, y, 2, rdYlBuStops, 0.74, 2.37, 7);
  axisLine(g, 1144, 68, 1144, 534, 4.5, 'y-axis-line');
  axisLine(g, 1144, 534, 1804, 534, 4.5, 'x-axis-line');
  ticksBDX.forEach(v => {
    shape(g, 'line', {x1: x(v), x2: x(v), y1: 534, y2: 549, stroke: '#000', 'stroke-width': 4}, 'x-tick');
    label(g, x(v), 572, String(v), 23, 'middle', 'x-tick-label');
  });
  ticksUmapY.forEach(v => {
    shape(g, 'line', {x1: 1129, x2: 1144, y1: y(v), y2: y(v), stroke: '#000', 'stroke-width': 4.5}, 'y-tick');
    label(g, 1116, y(v), String(v), 23, 'end', 'y-tick-label');
  });
  colorbar(g, 1861, 1925, cb, 141, 461, 'gradB', ticksBarB, 1, 1952, 21.5);
})();

/* ---------- panel D ---------- */
fillGradient('gradD', spectralStops);
(function () {
  const g = document.getElementById('panelD');
  const x = linear(-10, 10, 1272, 1673), y = linear(-10, 10, 1123, 889.5);
  const cb = linear(-0.6, -0.2, 1153.7, 932);
  valueScatter(g, x, y, 3, spectralStops, -0.634, -0.056, 8.5);
  axisLine(g, 1144, 786, 1144, 1237, 4.5, 'y-axis-line');
  axisLine(g, 1144, 1237, 1784, 1237, 4.5, 'x-axis-line');
  ticksBDX.forEach(v => {
    shape(g, 'line', {x1: x(v), x2: x(v), y1: 1237, y2: 1252, stroke: '#000', 'stroke-width': 4}, 'x-tick');
    label(g, x(v), 1274, String(v), 23, 'middle', 'x-tick-label');
  });
  ticksUmapY.forEach(v => {
    shape(g, 'line', {x1: 1129, x2: 1144, y1: y(v), y2: y(v), stroke: '#000', 'stroke-width': 4.5}, 'y-tick');
    label(g, 1116, y(v), String(v), 23, 'end', 'y-tick-label');
  });
  colorbar(g, 1840.5, 1905, cb, 852, 1172, 'gradD', ticksBarD, 1, 1934, 23.5);
})();

/* ---------- panel C ---------- */
fillGradient('gradC', padjustStops);
(function () {
  const g = document.getElementById('panelC');
  const x = linear(0, 8, 397, 733.5);
  const pad = linear(0, 0.05, 1213.6, 854);
  const bandTop = 792, bandStep = 89.2, bandH = 80;
  goTerms.forEach((lines, i) => {
    const top = bandTop + i * bandStep, mid = top + bandH / 2;
    shape(g, 'rect', {x: x(0), y: top, width: x(goCounts[i]) - x(0), height: bandH, fill: ramp(padjustStops, goPadjust[i] / 0.05)}, 'bar-' + i);
    shape(g, 'line', {x1: 369, x2: 381, y1: mid, y2: mid, stroke: '#444', 'stroke-width': 4.5}, 'category-tick');
    lines.forEach((t, k) => {
      const off = lines.length === 2 ? (k === 0 ? -13.5 : 13.5) : 0;
      label(g, 359, mid + off - (lines.length === 2 ? 0 : 1), t, 24.9, 'end', 'category-label');
    });
  });
  ticksCX.forEach(v => {
    shape(g, 'line', {x1: x(v), x2: x(v), y1: 1242, y2: 1253, stroke: '#444', 'stroke-width': 4}, 'x-tick');
    label(g, x(v), 1274, String(v), 30, 'middle', 'x-tick-label');
  });
  colorbar(g, 819, 891, pad, 854, 1213.6, 'gradC', ticksBarC, 2, 914, 24);
})();

/* ---------- violins ---------- */
function smoothSide(pts) {
  let d = '';
  for (let i = 0; i < pts.length - 1; i++) {
    const p0 = pts[Math.max(0, i - 1)], p1 = pts[i], p2 = pts[i + 1], p3 = pts[Math.min(pts.length - 1, i + 2)];
    const c1x = p1[0] + (p2[0] - p0[0]) / 6, c1y = p1[1] + (p2[1] - p0[1]) / 6;
    const c2x = p2[0] - (p3[0] - p1[0]) / 6, c2y = p2[1] - (p3[1] - p1[1]) / 6;
    d += 'C' + c1x.toFixed(1) + ' ' + c1y.toFixed(1) + ' ' + c2x.toFixed(1) + ' ' + c2y.toFixed(1) + ' ' + p2[0].toFixed(1) + ' ' + p2[1].toFixed(1);
  }
  return d;
}
function violinPanel(cfg) {
  const g = document.getElementById(cfg.id);
  const y = linear(cfg.yA[0], cfg.yB[0], cfg.yA[1], cfg.yB[1]);
  const xc = i => cfg.x0 + i * cfg.step;
  const halfMax = 44.3;
  cfg.values.forEach((vals, i) => {
    const right = vals.map((v, k) => [xc(i) + cfg.density[i][k] / 70 * halfMax, y(v)]);
    const left = vals.map((v, k) => [xc(i) - cfg.density[i][k] / 70 * halfMax, y(v)]).reverse();
    const d = 'M' + right[0][0].toFixed(1) + ' ' + right[0][1].toFixed(1) + smoothSide(right) +
      'L' + left[0][0].toFixed(1) + ' ' + left[0][1].toFixed(1) + smoothSide(left) + 'Z';
    shape(g, 'path', {d: d, fill: identityColors[i], stroke: '#333', 'stroke-width': 4.8, 'stroke-linejoin': 'round'}, 'violin-' + identityNames[i]);
    const sig = shape(g, 'text', {x: xc(i), y: cfg.sigY, 'font-size': 23, 'text-anchor': 'middle', fill: '#333'}, 'significance-label');
    sig.textContent = cfg.sig[i];
    shape(g, 'line', {x1: xc(i), x2: xc(i), y1: cfg.axisY, y2: cfg.axisY + 17, stroke: '#000', 'stroke-width': 3.6}, 'x-tick');
  });
  axisLine(g, cfg.axisX, cfg.topY, cfg.axisX, cfg.axisY, 4, 'y-axis-line');
  axisLine(g, cfg.axisX, cfg.axisY, cfg.rightX, cfg.axisY, 4, 'x-axis-line');
  cfg.ticks.forEach(v => {
    shape(g, 'line', {x1: cfg.axisX - 15, x2: cfg.axisX, y1: y(v), y2: y(v), stroke: '#000', 'stroke-width': 4.2}, 'y-tick');
    label(g, cfg.axisX - 29.5, y(v), fmt(v, cfg.digits), 32, 'end', 'y-tick-label');
  });
}
violinPanel({id: 'panelE1', values: ad07PosValues, density: ad07PosDensity, sig: sigAd07Pos, ticks: ticksAd07Pos, digits: 2,
  yA: [0, 1687.8], yB: [0.06, 1508.4], x0: 224.3, step: 96.3, axisX: 167, axisY: 1794.5, topY: 1418, rightX: 956, sigY: 1437});
violinPanel({id: 'panelE2', values: ad07NegValues, density: ad07NegDensity, sig: sigAd07Neg, ticks: ticksAd07Neg, digits: 2,
  yA: [0, 1493.8], yB: [-0.06, 1785.5], x0: 1228, step: 96.3, axisX: 1170, axisY: 1794.5, topY: 1418, rightX: 1961, sigY: 1437});
violinPanel({id: 'panelE3', values: ad10PosValues, density: ad10PosDensity, sig: sigAd10Pos, ticks: ticksAd10Pos, digits: 2,
  yA: [0, 2177.5], yB: [0.10, 2010.4], x0: 224.3, step: 96.3, axisX: 167, axisY: 2381, topY: 2004, rightX: 956, sigY: 2023});
violinPanel({id: 'panelE4', values: ad10NegValues, density: ad10NegDensity, sig: sigAd10Neg, ticks: ticksAd10Neg, digits: 3,
  yA: [0, 2228], yB: [0.075, 2017.7], x0: 1245, step: 94.1, axisX: 1188.6, axisY: 2381, topY: 2004, rightX: 1961, sigY: 2023});
</script>
</body>
</html>
